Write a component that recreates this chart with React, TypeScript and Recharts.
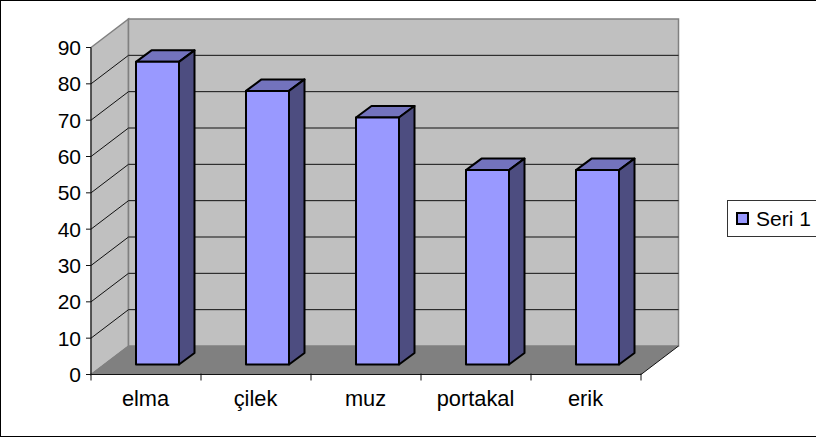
import { Bar, BarChart, CartesianGrid, Legend, XAxis, YAxis } from "recharts";

const categories = ["elma", "çilek", "muz", "portakal", "erik"];
const values = [83.3, 75.3, 68, 53.5, 53.5];
const yTicks = [0, 10, 20, 30, 40, 50, 60, 70, 80, 90];
const seriesName = "Seri 1";

const data = categories.map((name, i) => ({ name, value: values[i] }));

const FONT = "'Liberation Sans', Arial, sans-serif";
// front plane of the plot, and the oblique offset of the back wall
const PLOT = { x: 91, y: 47.5, width: 550, height: 327 };
const DX = 37.5;
const DY = -28.5;

// sits behind the chart's svg, the grid has to be painted over it
function Walls() {
  const { x, y, width, height } = PLOT;
  const r = x + width;
  const b = y + height;
  return (
    <svg width={816} height={437} style={{ position: "absolute", left: 0, top: 0 }}>
      <polygon points={`${x},${y} ${x + DX},${y + DY} ${x + DX},${b + DY} ${x},${b}`} fill="#c0c0c0" stroke="#808080" strokeWidth={1.5} />
      <rect x={x + DX} y={y + DY} width={width} height={height} fill="#c0c0c0" stroke="#808080" strokeWidth={1.5} />
      <polygon points={`${x},${b} ${x + DX},${b + DY} ${r + DX},${b + DY} ${r},${b}`} fill="#808080" />
      <line x1={r} y1={b} x2={r + DX} y2={b + DY} stroke="#111" />
      <line x1={x} y1={b} x2={x + DX} y2={b + DY} stroke="#808080" />
    </svg>
  );
}

function WallLine(props: any) {
  const { x1, x2, y1 } = props;
  if (Math.abs(y1 - (PLOT.y + PLOT.height)) < 1 || Math.abs(y1 - PLOT.y) < 1) {
    return null;
  }
  return (
    <g stroke="#111" strokeWidth={1}>
      <line x1={x1} y1={y1} x2={x1 + DX} y2={y1 + DY} />
      <line x1={x1 + DX} y1={y1 + DY} x2={x2 + DX} y2={y1 + DY} />
    </g>
  );
}

function Bar3D(props: any) {
  const { x, y, width, height } = props;
  const left = x + 11;
  const top = y - 10;
  const right = left + width;
  const bottom = top + height;
  const dx = 15.5;
  const dy = -11.5;
  return (
    <g stroke="#000" strokeWidth={2} strokeLinejoin="round">
      <polygon points={`${left},${top} ${left + dx},${top + dy} ${right + dx},${top + dy} ${right},${top}`} fill="#7373bd" />
      <polygon points={`${right},${top} ${right + dx},${top + dy} ${right + dx},${bottom + dy} ${right},${bottom}`} fill="#4d4d80" />
      <rect x={left} y={top} width={width} height={height} fill="#9999ff" />
    </g>
  );
}

function CategoryTick(props: any) {
  const { x, y, payload, index, width } = props;
  const band = width / categories.length;
  const base = y - 8;
  return (
    <g>
      {index === 0 && <line x1={x - band / 2} y1={base - 1} x2={x - band / 2} y2={base + 6} stroke="#111" />}
      <line x1={x + band / 2} y1={base - 1} x2={x + band / 2} y2={base + 6} stroke="#111" />
      <text x={x - 0.5} y={base + 31} textAnchor="middle" fontSize={21.8} fontFamily={FONT} fill="#000">
        {payload.value}
      </text>
    </g>
  );
}

function LegendBox() {
  return (
    <div
      style={{
        boxSizing: "border-box",
        width: 92,
        height: 37,
        border: "1px solid #333",
        background: "#fff",
        fontFamily: FONT,
        fontSize: 21,
        lineHeight: "33px",
        color: "#000",
        display: "flex",
        alignItems: "center",
        paddingLeft: 8,
      }}
    >
      <span style={{ boxSizing: "border-box", width: 13, height: 13, background: "#9999ff", border: "2px solid #000", marginRight: 7 }} />
      {seriesName}
    </div>
  );
}

export default function App() {
  return (
    <div style={{ position: "absolute", left: 0, top: 0, width: 816, height: 437, overflow: "hidden", background: "#fff" }}>
      <div style={{ position: "absolute", left: 0, top: 0, width: 815, height: 435, border: "1px solid #000" }} />
      <Walls />
      <BarChart
        width={816}
        height={437}
        data={data}
        barSize={43}
        margin={{ top: 47.5, right: 83, bottom: 22.5, left: 31 }}
        style={{ position: "absolute", left: 0, top: 0 }}
      >
        <CartesianGrid vertical={false} horizontal={(p: any) => <WallLine key={p.key} {...p} />} />
        <XAxis
          dataKey="name"
          height={40}
          stroke="#111"
          tickLine={false}
          interval={0}
          tick={(p: any) => <CategoryTick {...p} />}
        />
        <YAxis
          width={60}
          domain={[0, 90]}
          ticks={yTicks}
          interval={0}
          stroke="#111"
          tickSize={5}
          tickMargin={5}
          tick={{ fontSize: 21, fontFamily: FONT, fill: "#000" }}
        />
        <Bar dataKey="value" name={seriesName} isAnimationActive={false} shape={(p: any) => <Bar3D {...p} />} />
        <Legend
          layout="horizontal"
          verticalAlign="middle"
          align="right"
          content={() => <LegendBox />}
          wrapperStyle={{ left: 727, top: 200, width: 92, bottom: "auto", right: "auto" }}
        />
      </BarChart>
    </div>
  );
}
